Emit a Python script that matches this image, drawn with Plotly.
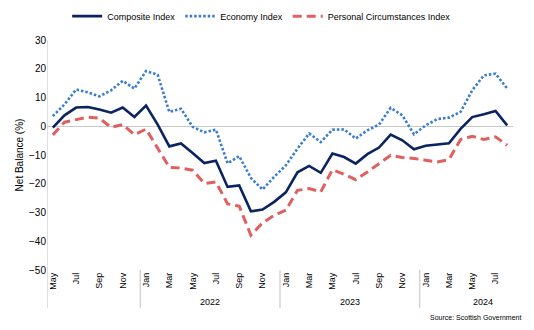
import plotly.graph_objects as go

months = (["May", "Jun", "Jul", "Aug", "Sep", "Oct", "Nov", "Dec"] +
          ["Jan", "Feb", "Mar", "Apr", "May", "Jun", "Jul", "Aug", "Sep", "Oct", "Nov", "Dec"] * 2 +
          ["Jan", "Feb", "Mar", "Apr", "May", "Jun", "Jul", "Aug"])
years = [2021] * 8 + [2022] * 12 + [2023] * 12 + [2024] * 8
categories = [f"{m} {y}" for m, y in zip(months, years)]

composite = [-0.5, 3.8, 6.5, 6.7, 5.8, 4.7, 6.5, 3.2,
             7.2, 0.6, -7.0, -6.0, -9.3, -12.8, -12.0, -21.1, -20.6, -29.6, -29.0, -26.3,
             -23.0, -16.0, -13.8, -16.2, -9.5, -10.7, -13.0, -9.7, -7.4, -2.9, -4.9, -8.0,
             -6.8, -6.3, -5.9, -0.9, 3.2, 4.2, 5.3, 0.3]
economy = [3.5, 7.6, 12.8, 11.8, 10.4, 12.5, 15.8, 13.1,
           19.2, 17.9, 5.0, 6.1, -0.2, -2.1, -1.2, -12.9, -10.4, -18.0, -22.0, -17.6,
           -13.6, -7.8, -2.5, -5.5, -1.2, -1.1, -4.3, -1.4, 0.6, 6.4, 3.8, -2.8,
           0.3, 2.5, 3.0, 5.0, 12.5, 17.7, 18.3, 13.1]
personal = [-3.0, 1.4, 2.3, 3.2, 2.8, -0.4, 0.6, -2.9,
            -1.0, -7.8, -14.3, -14.5, -15.3, -19.9, -19.4, -27.0, -27.8, -37.9, -33.6, -31.0,
            -29.2, -22.3, -21.7, -22.8, -15.1, -16.7, -18.6, -15.9, -13.0, -10.1, -10.9, -11.2,
            -11.8, -12.4, -11.6, -4.6, -3.5, -4.6, -3.7, -6.6]

year_labels = ["2022", "2023", "2024"]
y_ticks = [30, 20, 10, 0, -10, -20, -30, -40, -50]

FONT = "Liberation Sans, Arial, sans-serif"

fig = go.Figure()
fig.add_trace(go.Scatter(x=categories, y=composite, mode="lines", name="Composite Index",
                         line=dict(color="#0B2360", width=2.6)))
fig.add_trace(go.Scatter(x=categories, y=economy, mode="lines", name="Economy Index",
                         line=dict(color="#3A7DD0", width=2.6, dash="2.5px,2px")))
fig.add_trace(go.Scatter(x=categories, y=personal, mode="lines", name="Personal Circumstances Index",
                         line=dict(color="#E06060", width=3, dash="9px,5px")))

tick_idx = list(range(0, len(categories), 2))
fig.update_xaxes(type="category", range=[-0.5, len(categories) - 0.5],
                 tickmode="array", tickvals=[categories[i] for i in tick_idx],
                 ticktext=[months[i] for i in tick_idx], tickangle=-90,
                 tickfont=dict(size=9, color="#000000", family=FONT),
                 showgrid=False, showline=False, ticks="", zeroline=False)
fig.update_yaxes(range=[-50, 30], tickvals=y_ticks, showgrid=False, zeroline=True,
                 zerolinecolor="#C8C8C8", zerolinewidth=1,
                 showline=False, ticks="", tickfont=dict(size=10, color="#000000", family=FONT),
                 title=dict(text="Net Balance (%)", font=dict(size=10, color="#000000", family=FONT),
                            standoff=3))

shapes = []
shapes.append(dict(type="line", xref="x", yref="paper", x0=-0.5, x1=-0.5, y0=-0.165, y1=1,
                   line=dict(color="#C0C0C0", width=1)))
for b in [7.5, 19.5, 31.5]:
    shapes.append(dict(type="line", xref="x", yref="paper", x0=b, x1=b, y0=-0.165, y1=0,
                       line=dict(color="#C0C0C0", width=1)))

annotations = []
year_pos = [13.5, 25.5, 36.9]
for lab, xp in zip(year_labels, year_pos):
    annotations.append(dict(text=lab, xref="x", yref="paper", x=xp, y=-0.138, showarrow=False,
                            font=dict(size=9, color="#000000", family=FONT),
                            xanchor="center", yanchor="middle"))
annotations.append(dict(text="Source: Scottish Government", xref="paper", yref="paper",
                        x=1.021, y=-0.208, showarrow=False, xanchor="right", yanchor="middle",
                        font=dict(size=7, color="#000000", family=FONT)))

fig.update_layout(width=534, height=330, margin=dict(l=47, r=21, t=40, b=60, autoexpand=False),
                  paper_bgcolor="white", plot_bgcolor="white",
                  font=dict(family=FONT, color="#000000"),
                  shapes=shapes, annotations=annotations,
                  legend=dict(orientation="h", x=0.49, xref="container", xanchor="center",
                              y=0.995, yref="container", yanchor="top",
                              font=dict(size=9, color="#000000", family=FONT),
                              itemwidth=30, tracegroupgap=0))

fig.write_html("out.html")
